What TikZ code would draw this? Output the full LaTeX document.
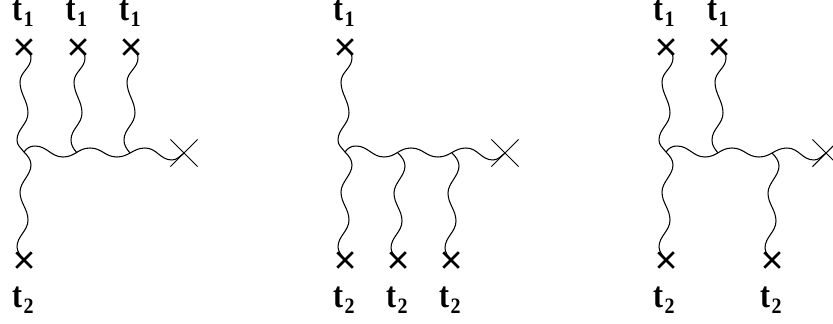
\documentclass[tikz,border=0pt]{standalone}
\usepackage{fontspec}
\setmainfont{Liberation Serif}
\usetikzlibrary{shapes.misc}
\tikzset{
  x=1pt,y=-1pt,
  wire/.style={line width=1.05pt,black},
  src/.style={cross out,draw=black,line width=2.5pt,inner sep=0pt,minimum size=13pt},
  sink/.style={cross out,draw=black,line width=1.05pt,inner sep=0pt,minimum size=26pt},
  junc/.style={coordinate},
  lab/.style={inner sep=0pt,anchor=base west,font=\fontsize{30}{30}\selectfont\bfseries}
}
\newcommand{\tlab}[1]{\scalebox{1}[1.22]{t}\kern1.5pt\raisebox{-6pt}{\fontsize{20}{20}\selectfont\bfseries\scalebox{1}[1.1]{#1}}}
% wave from a cross above down to a junction
\newcommand{\wavedown}[2]{\draw[wire] (#1.center) ++(3,4) .. controls +(2,2) and +(0,-4) .. ++(4,7)
  .. controls +(0,10) and +(0,-10) .. ++(-11,24)
  .. controls +(0,12) and +(0,-12) .. ++(8,31)
  .. controls +(0,11) and +(0,-11) .. ++(-11,27)
  .. controls +(0,5) and +(-4,-5) .. (#2);}
% wave from a junction down to a cross below
\newcommand{\waveup}[2]{\draw[wire] (#1) .. controls +(4,4) and +(0,-5) .. ++(7,13)
  .. controls +(0,10) and +(0,-10) .. ++(-11,27)
  .. controls +(0,11) and +(0,-11) .. ++(8,28)
  .. controls +(0,11) and +(0,-11) .. ++(-11,27)
  .. controls +(0,4) and +(-3,-3) .. (#2.center);}
% horizontal wave from the first junction to the large cross
\newcommand{\wavehoriz}[2]{\draw[wire] (#1) .. controls +(3,-4) and +(-5,0) .. ++(11,-6)
  .. controls +(12,0) and +(-12,0) .. ++(28,11)
  .. controls +(12,0) and +(-12,0) .. ++(27,-9)
  .. controls +(12,0) and +(-12,0) .. ++(27,9)
  .. controls +(12,0) and +(-12,0) .. ++(28,-9)
  .. controls +(12,0) and +(-12,0) .. ++(27,12)
  .. controls +(5,0) and +(-4,3) .. (#2.center);}
\begin{document}
\begin{tikzpicture}
\useasboundingbox (0,0) rectangle (833,324);
% left diagram
\node[junc] (aj0) at (24,152) {};
\node[junc] (aj1) at (77,153) {};
\node[junc] (aj2) at (130,153) {};
\node[src] (at1) at (24,47) {};
\node[src] (at2) at (78,47) {};
\node[src] (at3) at (131,47) {};
\node[src] (ab1) at (24,260) {};
\node[sink] (as) at (184,153) {};
\wavehoriz{aj0}{as}
\wavedown{at1}{aj0}
\wavedown{at2}{aj1}
\wavedown{at3}{aj2}
\waveup{aj0}{ab1}
\node[lab] (al1) at (12,20) {\tlab{1}};
\node[lab] (al2) at (65.5,20) {\tlab{1}};
\node[lab] (al3) at (119,20) {\tlab{1}};
\node[lab] (al4) at (12,307) {\tlab{2}};
% middle diagram
\node[junc] (bj0) at (345,152) {};
\node[junc] (bj1) at (398,153) {};
\node[junc] (bj2) at (452,153) {};
\node[src] (bt1) at (345,47) {};
\node[src] (bb1) at (345,260) {};
\node[src] (bb2) at (398,260) {};
\node[src] (bb3) at (451,260) {};
\node[sink] (bs) at (505,153) {};
\wavehoriz{bj0}{bs}
\wavedown{bt1}{bj0}
\waveup{bj0}{bb1}
\waveup{bj1}{bb2}
\waveup{bj2}{bb3}
\node[lab] (bl1) at (333,20) {\tlab{1}};
\node[lab] (bl2) at (333,307) {\tlab{2}};
\node[lab] (bl3) at (386,307) {\tlab{2}};
\node[lab] (bl4) at (439,307) {\tlab{2}};
% right diagram
\node[junc] (cj0) at (666,152) {};
\node[junc] (cj1) at (718,153) {};
\node[junc] (cj2) at (772,153) {};
\node[src] (ct1) at (666,47) {};
\node[src] (ct2) at (719,47) {};
\node[src] (cb1) at (666,260) {};
\node[src] (cb2) at (772,260) {};
\node[sink] (cs) at (826,153) {};
\wavehoriz{cj0}{cs}
\wavedown{ct1}{cj0}
\wavedown{ct2}{cj1}
\waveup{cj0}{cb1}
\waveup{cj2}{cb2}
\node[lab] (cl1) at (653,20) {\tlab{1}};
\node[lab] (cl2) at (707,20) {\tlab{1}};
\node[lab] (cl3) at (653,307) {\tlab{2}};
\node[lab] (cl4) at (760,307) {\tlab{2}};
\end{tikzpicture}
\end{document}
